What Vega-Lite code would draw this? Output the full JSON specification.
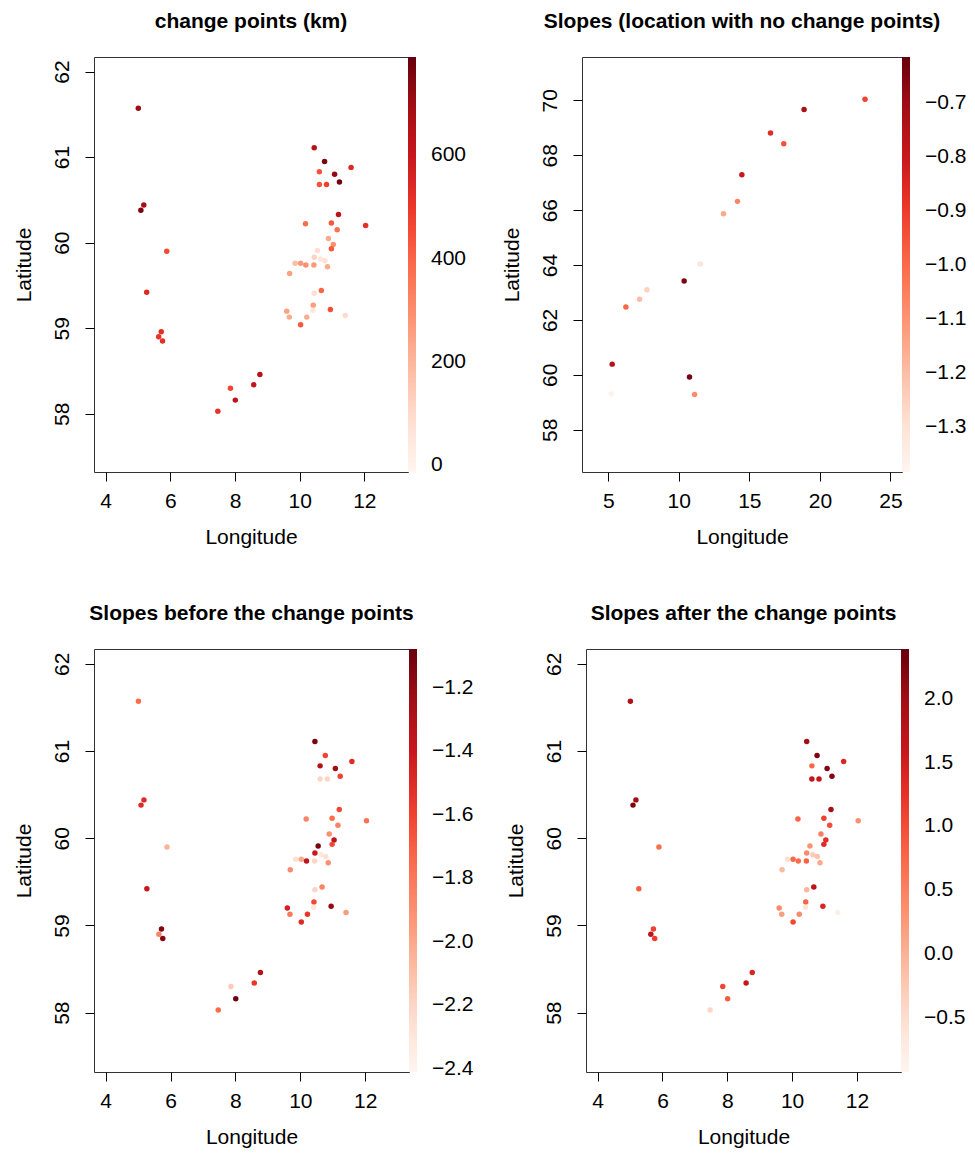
{
  "$schema": "https://vega.github.io/schema/vega-lite/v6.json",
  "background": "white",
  "padding": {"left": 12, "top": 10, "right": 0, "bottom": 0},
  "config": {
    "font": "Liberation Sans",
    "view": {"stroke": "#333", "strokeWidth": 1},
    "axis": {"grid": false, "domain": false, "tickColor": "#000", "tickSize": 9, "labelFontSize": 21, "titleFontSize": 21, "titleFontWeight": "normal", "labelColor": "#000", "titleColor": "#000", "labelFont": "Liberation Sans", "titleFont": "Liberation Sans"},
    "axisX": {"labelPadding": 9, "titlePadding": 15, "labelAngle": 0},
    "axisY": {"labelAngle": -90, "labelPadding": 13, "titlePadding": 17},
    "legend": {"gradientThickness": 8, "gradientStrokeWidth": 0, "labelFontSize": 21, "labelColor": "#000", "labelFont": "Liberation Sans", "offset": 0, "padding": 0, "labelOffset": 15, "gradientLabelOffset": 15, "direction": "vertical", "orient": "right", "type": "gradient"},
    "title": {"fontSize": 21, "fontWeight": "bold", "color": "#000", "font": "Liberation Sans", "offset": 25},
    "circle": {"size": 30, "opacity": 1}
  },
  "datasets": {
    "cp": [
      {"lon": 5.01, "lat": 61.57, "km": 700, "before": -1.75, "after": 1.85},
      {"lon": 10.45, "lat": 61.11, "km": 650, "before": -1.12, "after": 2.0},
      {"lon": 10.77, "lat": 60.95, "km": 760, "before": -1.6, "after": 2.25},
      {"lon": 11.59, "lat": 60.88, "km": 540, "before": -1.5, "after": 1.4},
      {"lon": 10.61, "lat": 60.83, "km": 440, "before": -1.3, "after": 0.75},
      {"lon": 11.08, "lat": 60.80, "km": 720, "before": -1.22, "after": 2.2},
      {"lon": 10.61, "lat": 60.68, "km": 440, "before": -2.2, "after": 1.65},
      {"lon": 10.83, "lat": 60.68, "km": 480, "before": -2.2, "after": 1.65},
      {"lon": 11.23, "lat": 60.71, "km": 770, "before": -1.6, "after": 2.2},
      {"lon": 5.18, "lat": 60.44, "km": 690, "before": -1.5, "after": 2.0},
      {"lon": 5.09, "lat": 60.38, "km": 760, "before": -1.5, "after": 2.25},
      {"lon": 11.20, "lat": 60.33, "km": 630, "before": -1.62, "after": 1.95},
      {"lon": 10.18, "lat": 60.22, "km": 380, "before": -1.85, "after": 0.8},
      {"lon": 10.98, "lat": 60.23, "km": 430, "before": -1.75, "after": 1.1},
      {"lon": 12.04, "lat": 60.20, "km": 520, "before": -1.78, "after": 0.35},
      {"lon": 11.16, "lat": 60.15, "km": 370, "before": -1.85, "after": 1.0},
      {"lon": 5.89, "lat": 59.90, "km": 460, "before": -2.05, "after": 0.7},
      {"lon": 10.89, "lat": 60.05, "km": 230, "before": -1.9, "after": 0.5},
      {"lon": 11.04, "lat": 59.98, "km": 290, "before": -1.35, "after": 1.3},
      {"lon": 10.98, "lat": 59.93, "km": 430, "before": -1.62, "after": 1.35},
      {"lon": 10.55, "lat": 59.91, "km": 90, "before": -1.12, "after": 0.3},
      {"lon": 10.45, "lat": 59.83, "km": 120, "before": -1.4, "after": 0.4},
      {"lon": 10.64, "lat": 59.81, "km": 60, "before": -2.3, "after": -0.3},
      {"lon": 10.78, "lat": 59.79, "km": 80, "before": -2.25, "after": -0.2},
      {"lon": 9.86, "lat": 59.76, "km": 180, "before": -2.25, "after": -0.5},
      {"lon": 10.03, "lat": 59.76, "km": 270, "before": -2.0, "after": 0.75},
      {"lon": 10.19, "lat": 59.74, "km": 290, "before": -1.35, "after": 0.7},
      {"lon": 10.44, "lat": 59.74, "km": 270, "before": -2.2, "after": 0.8},
      {"lon": 10.86, "lat": 59.72, "km": 230, "before": -1.9, "after": 0.1},
      {"lon": 9.69, "lat": 59.64, "km": 250, "before": -1.88, "after": -0.1},
      {"lon": 5.27, "lat": 59.42, "km": 540, "before": -1.4, "after": 0.85},
      {"lon": 10.67, "lat": 59.44, "km": 400, "before": -1.85, "after": 1.75},
      {"lon": 10.45, "lat": 59.41, "km": 90, "before": -2.2, "after": -0.05},
      {"lon": 10.42, "lat": 59.27, "km": 260, "before": -1.62, "after": 0.8},
      {"lon": 10.41, "lat": 59.21, "km": 50, "before": -2.3, "after": -0.6},
      {"lon": 10.95, "lat": 59.22, "km": 450, "before": -1.2, "after": 1.4},
      {"lon": 9.60, "lat": 59.20, "km": 250, "before": -1.45, "after": 0.4},
      {"lon": 9.68, "lat": 59.13, "km": 230, "before": -1.8, "after": 0.2},
      {"lon": 10.22, "lat": 59.13, "km": 230, "before": -1.55, "after": 0.4},
      {"lon": 11.41, "lat": 59.15, "km": 100, "before": -1.95, "after": -0.8},
      {"lon": 10.03, "lat": 59.04, "km": 430, "before": -1.5, "after": 1.05},
      {"lon": 5.72, "lat": 58.96, "km": 530, "before": -1.15, "after": 1.1},
      {"lon": 5.64, "lat": 58.90, "km": 510, "before": -1.85, "after": 1.7},
      {"lon": 5.76, "lat": 58.85, "km": 520, "before": -1.15, "after": 1.15},
      {"lon": 8.77, "lat": 58.46, "km": 640, "before": -1.3, "after": 1.4},
      {"lon": 8.58, "lat": 58.34, "km": 610, "before": -1.55, "after": 1.6},
      {"lon": 7.86, "lat": 58.30, "km": 470, "before": -2.15, "after": 1.05},
      {"lon": 8.01, "lat": 58.16, "km": 630, "before": -1.1, "after": 0.85},
      {"lon": 7.47, "lat": 58.03, "km": 510, "before": -1.75, "after": -0.4}
    ],
    "nocp": [
      {"lon": 23.2, "lat": 70.04, "slope": -0.92},
      {"lon": 18.88, "lat": 69.67, "slope": -0.72},
      {"lon": 16.5, "lat": 68.81, "slope": -0.86},
      {"lon": 17.44, "lat": 68.42, "slope": -0.95},
      {"lon": 14.47, "lat": 67.29, "slope": -0.8},
      {"lon": 14.16, "lat": 66.32, "slope": -1.06},
      {"lon": 13.17, "lat": 65.87, "slope": -1.15},
      {"lon": 11.52, "lat": 64.04, "slope": -1.3},
      {"lon": 10.38, "lat": 63.42, "slope": -0.65},
      {"lon": 7.74, "lat": 63.10, "slope": -1.25},
      {"lon": 7.22, "lat": 62.75, "slope": -1.2},
      {"lon": 6.25, "lat": 62.47, "slope": -0.99},
      {"lon": 5.28, "lat": 60.39, "slope": -0.75},
      {"lon": 10.76, "lat": 59.92, "slope": -0.64},
      {"lon": 5.21, "lat": 59.30, "slope": -1.37},
      {"lon": 11.12, "lat": 59.28, "slope": -1.08}
    ]
  },
  "spacing": 54,
  "resolve": {"scale": {"color": "independent"}},
  "vconcat": [
    {
      "spacing": 32,
      "resolve": {"scale": {"color": "independent"}},
      "hconcat": [
        {
          "title": "change points (km)",
          "width": 314, "height": 415,
          "data": {"name": "cp"},
          "mark": {"type": "circle"},
          "encoding": {
            "x": {"field": "lon", "type": "quantitative", "scale": {"domain": [3.64, 13.35], "nice": false, "zero": false}, "axis": {"values": [4, 6, 8, 10, 12], "title": "Longitude"}},
            "y": {"field": "lat", "type": "quantitative", "scale": {"domain": [57.32, 62.17], "nice": false, "zero": false}, "axis": {"values": [58, 59, 60, 61, 62], "title": "Latitude"}},
            "color": {"field": "km", "type": "quantitative", "scale": {"interpolate": "rgb", "domain": [-13, 87.375, 187.75, 288.125, 388.5, 488.875, 589.25, 689.625, 790], "range": ["#fff5f0", "#fee0d2", "#fcbba1", "#fc9272", "#fb6a4a", "#ef3b2c", "#cb181d", "#a50f15", "#67000d"]}, "legend": {"title": null, "gradientLength": 415, "labelOffset": 15, "values": [0, 200, 400, 600]}}
          }
        },
        {
          "title": "Slopes (location with no change points)",
          "width": 320, "height": 415,
          "data": {"name": "nocp"},
          "mark": {"type": "circle"},
          "encoding": {
            "x": {"field": "lon", "type": "quantitative", "scale": {"domain": [3.14, 25.82], "nice": false, "zero": false}, "axis": {"values": [5, 10, 15, 20, 25], "title": "Longitude"}},
            "y": {"field": "lat", "type": "quantitative", "scale": {"domain": [56.46, 71.58], "nice": false, "zero": false}, "axis": {"values": [58, 60, 62, 64, 66, 68, 70], "title": "Latitude"}},
            "color": {"field": "slope", "type": "quantitative", "scale": {"interpolate": "rgb", "domain": [-1.383, -1.287, -1.191, -1.095, -0.999, -0.903, -0.807, -0.711, -0.615], "range": ["#fff5f0", "#fee0d2", "#fcbba1", "#fc9272", "#fb6a4a", "#ef3b2c", "#cb181d", "#a50f15", "#67000d"]}, "legend": {"title": null, "gradientLength": 415, "labelOffset": 15, "values": [-1.3, -1.2, -1.1, -1.0, -0.9, -0.8, -0.7], "format": ".1f"}}
          }
        }
      ]
    },
    {
      "spacing": 29,
      "resolve": {"scale": {"color": "independent"}},
      "hconcat": [
        {
          "title": "Slopes before the change points",
          "width": 315, "height": 423,
          "data": {"name": "cp"},
          "mark": {"type": "circle"},
          "encoding": {
            "x": {"field": "lon", "type": "quantitative", "scale": {"domain": [3.64, 13.35], "nice": false, "zero": false}, "axis": {"values": [4, 6, 8, 10, 12], "title": "Longitude"}},
            "y": {"field": "lat", "type": "quantitative", "scale": {"domain": [57.32, 62.17], "nice": false, "zero": false}, "axis": {"values": [58, 59, 60, 61, 62], "title": "Latitude"}},
            "color": {"field": "before", "type": "quantitative", "scale": {"interpolate": "rgb", "domain": [-2.41, -2.2434, -2.0768, -1.9101, -1.7435, -1.5769, -1.4103, -1.2436, -1.077], "range": ["#fff5f0", "#fee0d2", "#fcbba1", "#fc9272", "#fb6a4a", "#ef3b2c", "#cb181d", "#a50f15", "#67000d"]}, "legend": {"title": null, "gradientLength": 423, "labelOffset": 15, "values": [-2.4, -2.2, -2.0, -1.8, -1.6, -1.4, -1.2], "format": ".1f"}}
          }
        },
        {
          "title": "Slopes after the change points",
          "width": 315, "height": 423,
          "data": {"name": "cp"},
          "mark": {"type": "circle"},
          "encoding": {
            "x": {"field": "lon", "type": "quantitative", "scale": {"domain": [3.64, 13.36], "nice": false, "zero": false}, "axis": {"values": [4, 6, 8, 10, 12], "title": "Longitude"}},
            "y": {"field": "lat", "type": "quantitative", "scale": {"domain": [57.32, 62.17], "nice": false, "zero": false}, "axis": {"values": [58, 59, 60, 61, 62], "title": "Latitude"}},
            "color": {"field": "after", "type": "quantitative", "scale": {"interpolate": "rgb", "domain": [-0.925, -0.5106, -0.0963, 0.3181, 0.7325, 1.1469, 1.5613, 1.9756, 2.39], "range": ["#fff5f0", "#fee0d2", "#fcbba1", "#fc9272", "#fb6a4a", "#ef3b2c", "#cb181d", "#a50f15", "#67000d"]}, "legend": {"title": null, "gradientLength": 423, "labelOffset": 15, "values": [-0.5, 0.0, 0.5, 1.0, 1.5, 2.0], "format": ".1f"}}
          }
        }
      ]
    }
  ]
}
